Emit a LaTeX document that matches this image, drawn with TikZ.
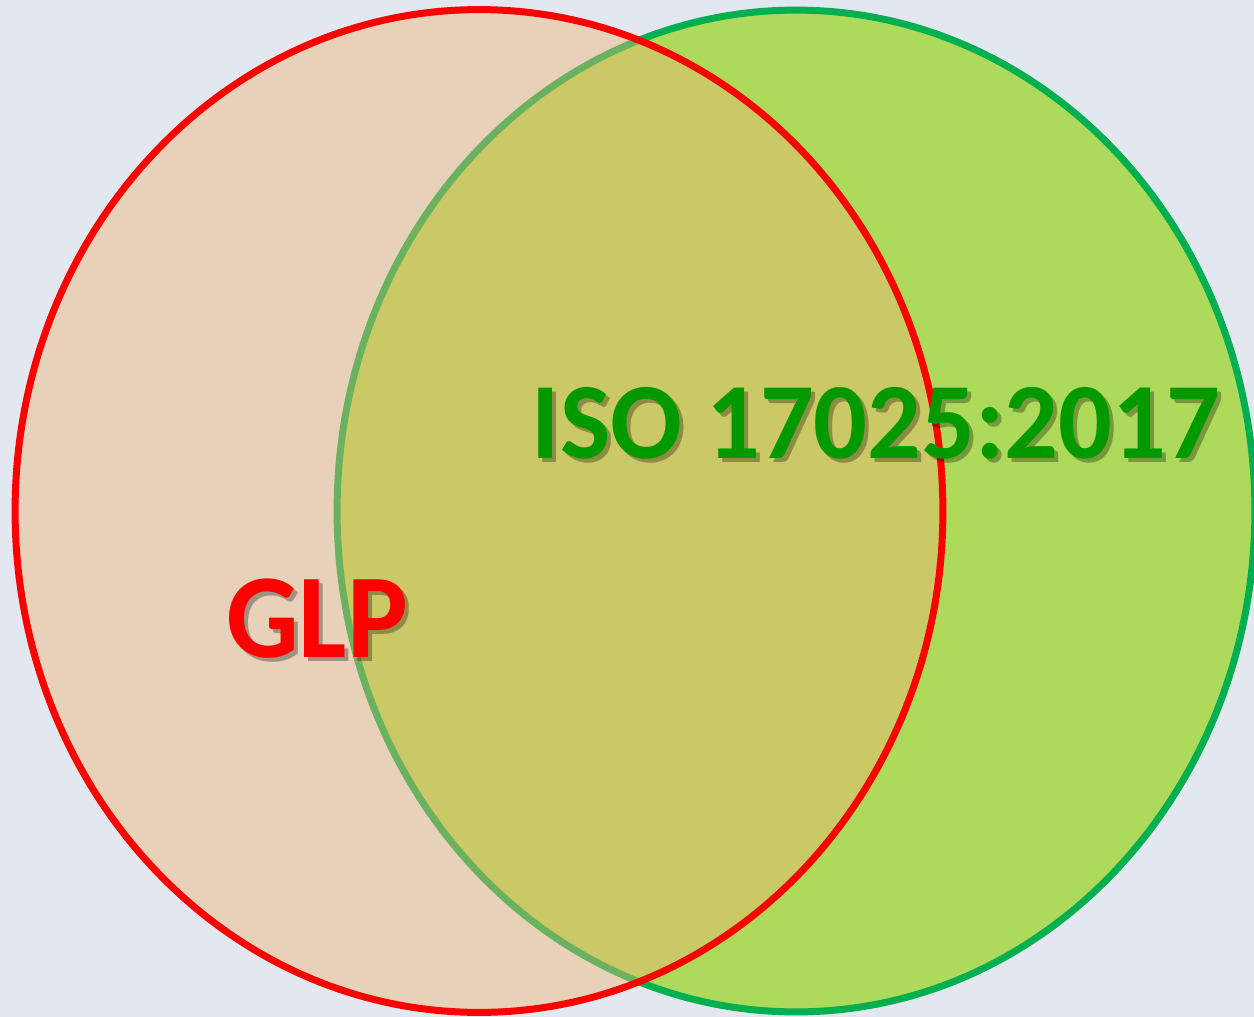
\documentclass[tikz,border=0pt]{standalone}
\usepackage{fontspec}
\setmainfont{Carlito}
\usetikzlibrary{shapes.geometric}
\definecolor{bgc}{HTML}{E3E8F0}
\definecolor{gfill}{HTML}{ADDA5A}
\definecolor{gline}{HTML}{00B050}
\definecolor{rfill}{RGB}{238,181,116}
\definecolor{isogreen}{HTML}{009900}
\tikzset{
  lbl/.style={font=\bfseries, anchor=base, inner sep=0pt},
  shadowtxt/.style={lbl, text=black, text opacity=0.3},
  isofont/.style={font=\fontsize{60.5}{60}\bfseries\selectfont, yscale=1.02},
  glpfont/.style={font=\fontsize{65}{65}\bfseries\selectfont, yscale=1.05},
}
\begin{document}
\begin{tikzpicture}[x=0.02cm,y=-0.02cm]
\useasboundingbox (0,0) rectangle (1254,1017);
\fill[bgc] (0,0) rectangle (1254,1017);
\begin{scope}
\clip (0,0) rectangle (1254,1017);
\node[ellipse, draw=gline, fill=gfill, line width=0.14cm, minimum width=18.36cm, minimum height=20.04cm, inner sep=0pt] (iso) at (796,511) {};
\node[ellipse, draw=red, fill=rfill, fill opacity=0.45, draw opacity=1, line width=0.14cm, minimum width=18.56cm, minimum height=20.06cm, inner sep=0pt] (glp) at (479,511) {};
\end{scope}
\node[shadowtxt, isofont] at (880,462) {ISO 17025:2017};
\node[lbl, isofont, text=isogreen] (isolabel) at (876,458) {ISO 17025:2017};
\node[shadowtxt, glpfont] at (321,661) {GLP};
\node[lbl, glpfont, text=red] (glplabel) at (317,657) {GLP};
\end{tikzpicture}
\end{document}
